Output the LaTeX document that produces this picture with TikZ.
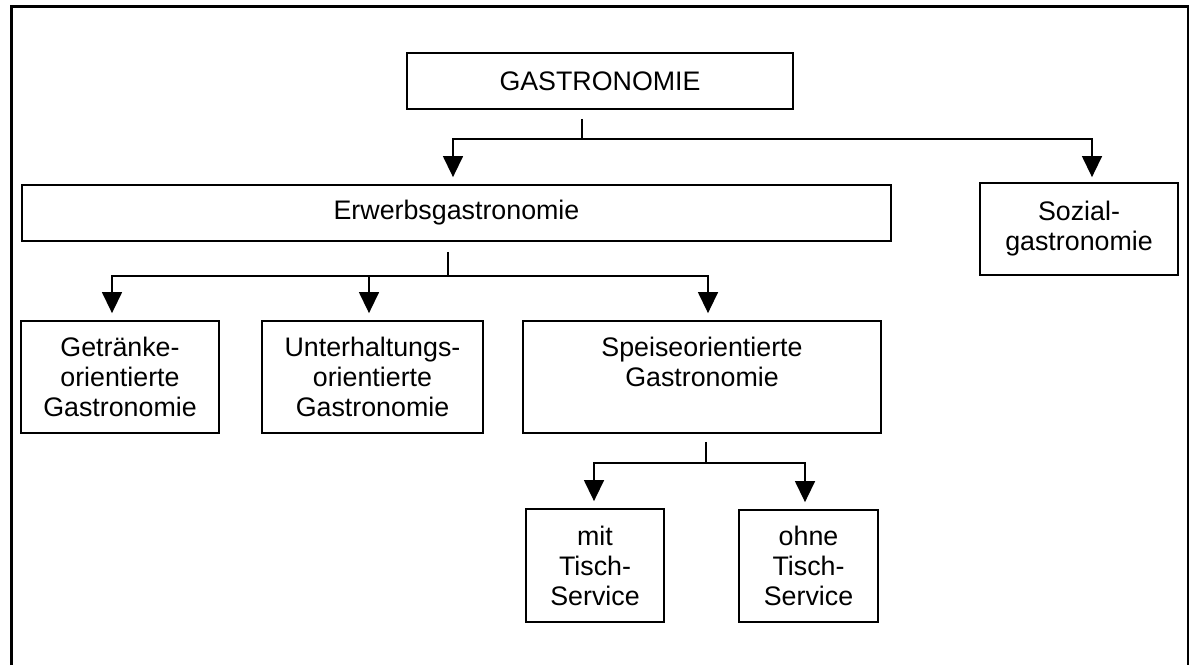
\documentclass[tikz,border=0pt]{standalone}
\usepackage{fontspec}
\setmainfont{Liberation Sans}
\usetikzlibrary{arrows.meta}

\begin{document}
\begin{tikzpicture}[
    x=0.5pt, y=-0.5pt,
    % Kästen mit Text
    kasten/.style={draw, line width=0.9pt, align=center, inner sep=0pt,
        font=\fontsize{13.4}{15}\selectfont},
    % Verbindungslinien und Pfeile
    linie/.style={line width=0.7pt},
    pfeil/.style={linie, shorten >=3.5pt, -{Triangle[width=10pt,length=10.5pt]}}
]
    \useasboundingbox (0,0) rectangle (1193,665);

    % Rahmen (unten offen)
    \draw[line width=1.2pt] (11.5,665) -- (11.5,6.5) -- (1188,6.5) -- (1188,665);

    % Ebene 1
    \node[kasten, minimum width=193pt, minimum height=28pt] (gastro) at (600,81) {GASTRONOMIE};

    % Ebene 2
    \node[kasten, minimum width=434.5pt, minimum height=28pt] (erwerb) at (456.5,213) {Erwerbsgastronomie};
    \node[kasten, minimum width=99pt, minimum height=46pt] (sozial) at (1079,229) {Sozial-\\gastronomie};

    % Ebene 3
    \node[kasten, minimum width=99pt, minimum height=56pt] (getraenke) at (120,377) {Getränke-\\orientierte\\Gastronomie};
    \node[kasten, minimum width=110.5pt, minimum height=56pt] (unterhalt) at (372.5,377) {Unterhaltungs-\\orientierte\\Gastronomie};
    \node[kasten, minimum width=179pt, minimum height=56pt] (speise) at (702,377) {Speiseorientierte\\Gastronomie\\\mbox{}};

    % Ebene 4
    \node[kasten, minimum width=69pt, minimum height=56.5pt] (mit) at (595,565.5) {mit\\Tisch-\\Service};
    \node[kasten, minimum width=69.5pt, minimum height=56pt] (ohne) at (808.5,566) {ohne\\Tisch-\\Service};

    % Verzweigungspunkte
    \coordinate (j1) at (582,139);
    \coordinate (j2) at (448,276);
    \coordinate (j3) at (706,463);

    % GASTRONOMIE -> Erwerbs- / Sozialgastronomie
    \draw[linie, shorten <=4.5pt] (gastro.south -| j1) -- (j1);
    \draw[pfeil] (j1) -| ([xshift=-1.75pt]erwerb.north);
    \draw[pfeil, shorten >=2.5pt] (j1) -| ([xshift=6.5pt]sozial.north);

    % Erwerbsgastronomie -> Unterarten
    \draw[linie, shorten <=5pt] (erwerb.south -| j2) -- (j2);
    \draw[pfeil] (j2) -| ([xshift=-4pt]getraenke.north);
    \draw[pfeil] (j2) -| ([xshift=-1.75pt]unterhalt.north);
    \draw[pfeil] (j2) -| ([xshift=3pt]speise.north);

    % Speiseorientierte Gastronomie -> mit / ohne Service
    \draw[linie, shorten <=4pt] (speise.south -| j3) -- (j3);
    \draw[pfeil] (j3) -| ([xshift=-0.5pt]mit.north);
    \draw[pfeil] (j3) -| ([xshift=-1.75pt]ohne.north);
\end{tikzpicture}
\end{document}
